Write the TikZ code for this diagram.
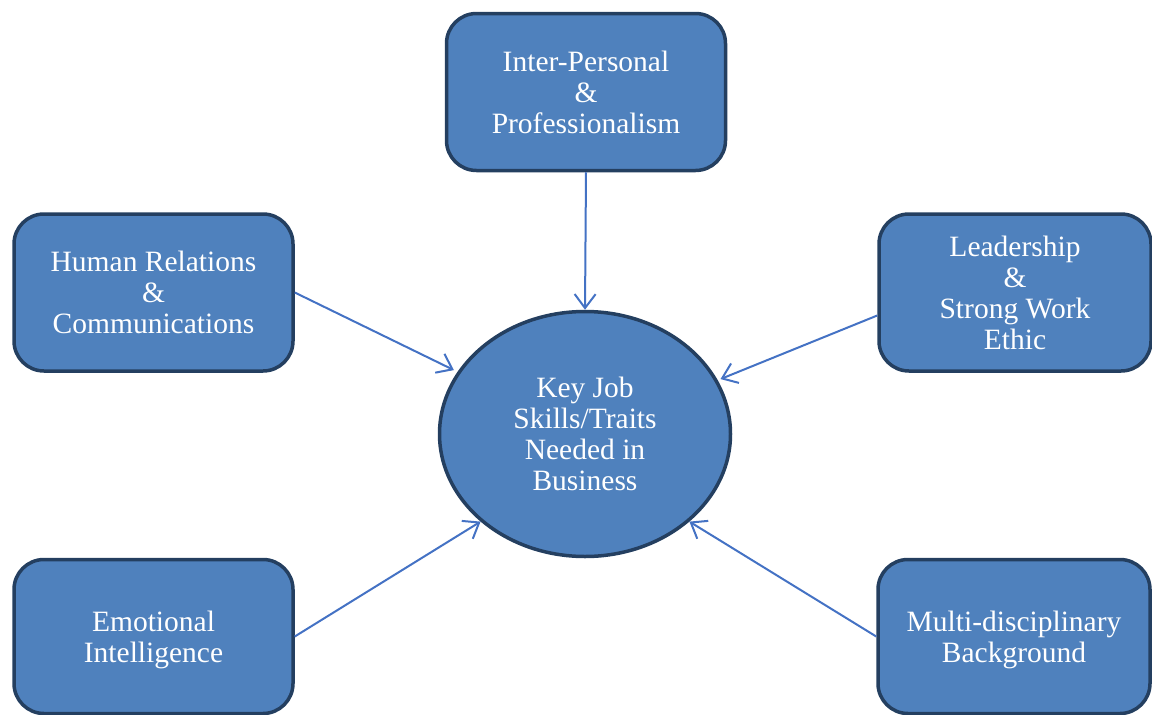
\documentclass[tikz,border=0pt]{standalone}
\usepackage{fontspec}
\setmainfont{Liberation Serif}
\usetikzlibrary{arrows.meta,shapes.geometric}
\definecolor{boxfill}{HTML}{4F81BD}
\definecolor{boxline}{HTML}{243F60}
\definecolor{linkblue}{HTML}{4472C4}

\begin{document}
\begin{tikzpicture}[x=1pt, y=-1pt,
trait/.style={rectangle, rounded corners=30pt, draw=boxline, fill=boxfill, line width=3.5pt, text=white, align=center, inner sep=0pt, minimum width=279pt, minimum height=157pt, font=\fontsize{29.5}{31}\selectfont},
core/.style={ellipse, draw=boxline, fill=boxfill, line width=3.5pt, text=white, align=center, inner sep=0pt, minimum width=291pt, minimum height=245pt, font=\fontsize{29.5}{31}\selectfont},
link/.style={draw=linkblue, line width=2pt, -{Straight Barb[length=14pt, width=21pt]}},
]
\useasboundingbox (0,0) rectangle (1152,715);

% centre
\node[core] (key) at (585,434) {Key Job\\Skills/Traits\\Needed in\\Business};

% the five traits
\node[trait] (top) at (586,92) {Inter-Personal\\\&\\Professionalism};
\node[trait] (ul) at (153.5,292.5) {Human Relations\\\&\\Communications};
\node[trait, minimum width=272pt, xshift=3pt] (ur) at (1012,292.5) {Leadership\\\&\\Strong Work\\Ethic};
\node[trait, minimum height=154pt, text depth=0pt] (ll) at (153.5,636.5) {Emotional\\Intelligence};
\node[trait, minimum width=272pt, minimum height=154pt, text depth=0pt] (lr) at (1014,636.5) {Multi-disciplinary\\Background};

% arrows into the centre
\draw[link] (top.south) -- (key.north);
\draw[link, shorten >=4pt] (ul.east) -- (key);
\draw[link, shorten >=3pt] ([yshift=-23pt]ur.west) -- (key);
\draw[link] (ll.east) -- (key.220);
\draw[link] (lr.west) -- (key.320);
\end{tikzpicture}
\end{document}
